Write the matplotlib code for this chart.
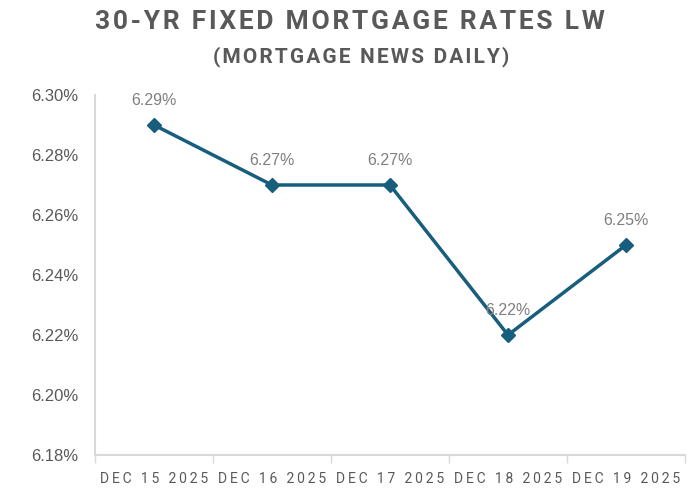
import matplotlib
matplotlib.use("Agg")
import matplotlib.pyplot as plt
from matplotlib.ticker import FuncFormatter, FixedLocator

dates = ["DEC 15 2025", "DEC 16 2025", "DEC 17 2025", "DEC 18 2025", "DEC 19 2025"]
rates = [6.29, 6.27, 6.27, 6.22, 6.25]
yticks = [6.18, 6.20, 6.22, 6.24, 6.26, 6.28, 6.30]

line_color = "#175E7E"
text_color = "#595959"
title_font = ["Roboto", "DejaVu Sans"]


def spaced(s, sep="\u2009"):
    return sep.join(s)


fig = plt.figure(figsize=(7, 4.94), dpi=100)
ax = fig.add_axes([95 / 700, 1 - 455 / 494, 590 / 700, 360 / 494])

x = list(range(len(dates)))
ax.plot(x, rates, color=line_color, lw=2.5, marker="D", ms=7, zorder=3)
for xi, r in zip(x, rates):
    ax.annotate(f"{r:.2f}%", (xi, r), xytext=(0, 18), textcoords="offset points",
                ha="center", va="center", fontsize=11.5, color="#7F7F7F",
                family="Liberation Sans")

ax.set_xlim(-0.5, len(dates) - 0.5)
ax.set_ylim(6.18, 6.30)
ax.set_yticks(yticks)
ax.yaxis.set_major_formatter(FuncFormatter(lambda v, p: f"{v:.2f}%"))
ax.tick_params(axis="y", length=0, pad=12, labelsize=12, labelcolor=text_color)
for lab in ax.get_yticklabels():
    lab.set_family("Liberation Sans")

ax.set_xticks(x)
ax.set_xticklabels([spaced(d) for d in dates])
ax.tick_params(axis="x", length=0, pad=12, labelsize=10, labelcolor=text_color)
ax.xaxis.set_minor_locator(FixedLocator([i - 0.5 for i in range(len(dates) + 1)]))
ax.tick_params(axis="x", which="minor", length=6, color="#D9D9D9", width=1)
for lab in ax.get_xticklabels():
    lab.set_family(title_font)

for s in ["top", "right"]:
    ax.spines[s].set_visible(False)
ax.spines["left"].set_color("#D9D9D9")
ax.spines["bottom"].set_color("#D9D9D9")
ax.spines["left"].set_linewidth(1.5)
ax.spines["bottom"].set_linewidth(1.5)

fig.text(0.5, 1 - 22 / 494, spaced("30-YR FIXED MORTGAGE RATES LW", "\u200a"),
         ha="center", va="center", fontsize=19, fontweight="bold",
         color=text_color, family=title_font)
fig.text(361 / 700, 1 - 57 / 494, spaced("(MORTGAGE NEWS DAILY)", "\u200a"),
         ha="center", va="center", fontsize=15, fontweight="bold",
         color=text_color, family=title_font)

fig.savefig("out.png", dpi=100)
